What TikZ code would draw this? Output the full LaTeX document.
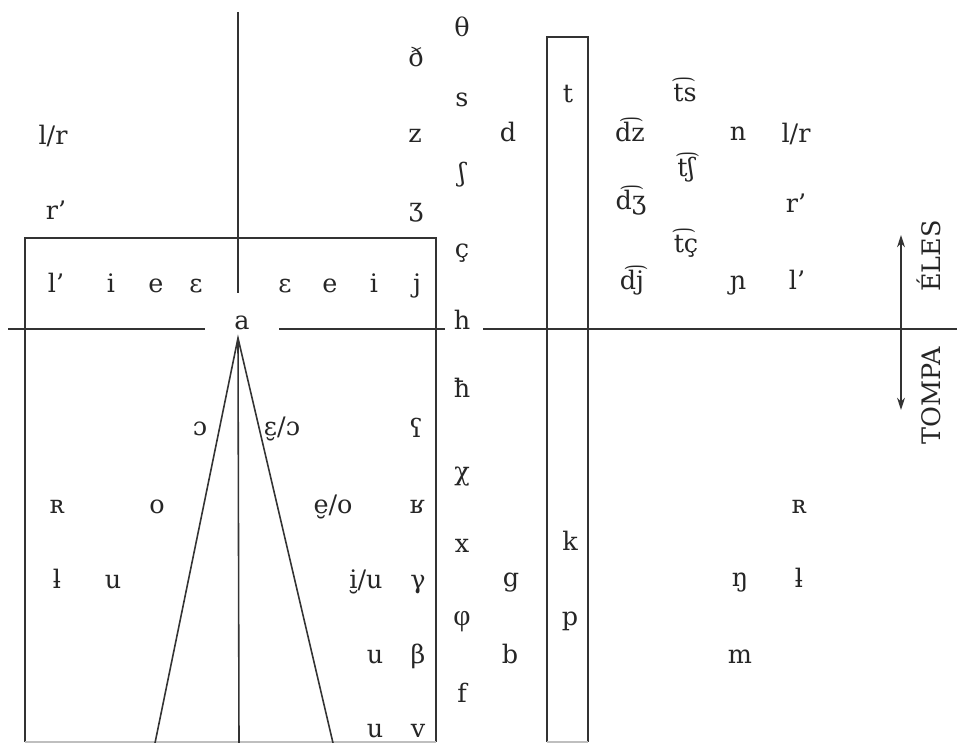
\documentclass[tikz,border=0pt]{standalone}
\usepackage{fontspec}
\setmainfont{DejaVu Serif}
\newfontfamily\altserif{Liberation Serif}
\usetikzlibrary{arrows.meta}
\tikzset{
  lbl/.style={font=\fontsize{14.5}{17}\selectfont, inner sep=0pt, anchor=base, text=black!85},
  rule/.style={line width=0.9pt, draw=black!80},
  faint/.style={line width=0.6pt, draw=black!25},
  side/.style={font=\fontsize{14.5}{17}\selectfont, inner sep=0pt, rotate=90, text=black!85}
}
\begin{document}
\begin{tikzpicture}[x=0.02cm,y=-0.02cm]
\useasboundingbox (0,0) rectangle (957,743);
% lines
\draw[rule] (238,12) -- (238,293);
\draw[rule] (25,742) -- (25,238) -- (436,238) -- (436,742);
\draw[faint] (25,742) -- (436,742);
\draw[rule] (8,329) -- (205,329);
\draw[rule] (279,329) -- (445,329);
\draw[rule] (483,329) -- (957,329);
\coordinate (apex) at (238,338);
\coordinate (lfoot) at (155,743);
\coordinate (rfoot) at (333,743);
\coordinate (mfoot) at (239,743);
\draw[rule] (lfoot) -- (apex) -- (rfoot);
\draw[rule] (apex) -- (mfoot);
\draw[rule] (547,742) -- (547,37) -- (588,37) -- (588,742);
\draw[faint] (547,742) -- (588,742);
\coordinate (atop) at (901,235);
\coordinate (abot) at (901,410);
\draw[rule, {Stealth[length=7pt,width=4.5pt]}-{Stealth[length=7pt,width=4.5pt]}] (atop) -- (abot);
\node[side] (eles) at (929,256) {ÉLES};
\node[side] (tompa) at (931,396) {TOMPA};
% column A
\node[lbl] (theta) at (462,37) {θ};
\node[lbl] (s) at (462,107) {s};
\node[lbl] (esh) at (462,182) {ʃ};
\node[lbl] (ccd) at (462,258) {ç};
\node[lbl] (h) at (462,330) {h};
\node[lbl] (hbar) at (462,398) {ħ};
\node[lbl] (chi) at (462,480) {χ};
\node[lbl] (x) at (462,552) {x};
\node[lbl] (phi) at (462,625) {\altserif\fontsize{17}{19}\selectfont φ};
\node[lbl] (f) at (462,702) {f};
% column B
\node[lbl] (eth) at (416,67) {ð};
\node[lbl] (z) at (415,143) {z};
\node[lbl] (ezh) at (416,217) {ʒ};
\node[lbl] (j) at (417,293) {j};
\node[lbl] (phar) at (416,437) {ʕ};
\node[lbl] (invr) at (417,513) {ʁ};
\node[lbl] (gam) at (418,588) {γ};
\node[lbl] (beta) at (418,663) {β};
\node[lbl] (v) at (418,737) {v};
% left block
\node[lbl] (lrL) at (53,145) {l/r};
\node[lbl] (rpL) at (56,220) {r’};
\node[lbl] (lpL) at (56,293) {l’};
\node[lbl] (iL) at (111,293) {i};
\node[lbl] (eL) at (156,293) {e};
\node[lbl] (epsL) at (196,293) {ɛ};
\node[lbl] (epsR) at (285,293) {ɛ};
\node[lbl] (eR) at (330,293) {e};
\node[lbl] (iR) at (374,293) {i};
\node[lbl] (a) at (242,330) {a};
\node[lbl] (oo) at (200,435) {ɔ};
\node[lbl] (eo1) at (282,435) {ɛ̮/ɔ};
\node[lbl] (scR) at (57,513) {ʀ};
\node[lbl] (o) at (157,513) {o};
\node[lbl] (eo2) at (333,513) {e̮/o};
\node[lbl] (lbarL) at (57,588) {ƚ};
\node[lbl] (uL) at (113,588) {u};
\node[lbl] (iu) at (366,588) {i̮/u};
\node[lbl] (u1) at (375,663) {u};
\node[lbl] (u2) at (375,737) {u};
% right block
\node[lbl] (t) at (568,103) {t};
\node[lbl] (ts) at (685,102) {t͡s};
\node[lbl] (d) at (508,142) {d};
\node[lbl] (dz) at (630,142) {d͡z};
\node[lbl] (n) at (738,141) {n};
\node[lbl] (lrR) at (796,143) {l/r};
\node[lbl] (tsh) at (686,177) {t͡ʃ};
\node[lbl] (dzh) at (631,210) {d͡ʒ};
\node[lbl] (rpR) at (796,213) {r’};
\node[lbl] (tc) at (686,253) {t͡ç};
\node[lbl] (dj) at (632,290) {d͡j};
\node[lbl] (nj) at (738,290) {ɲ};
\node[lbl] (lpR) at (797,290) {l’};
\node[lbl] (scRR) at (799,513) {ʀ};
\node[lbl] (k) at (570,550) {k};
\node[lbl] (g) at (511,586) {g};
\node[lbl] (ng) at (740,586) {ŋ};
\node[lbl] (lbarR) at (799,587) {ƚ};
\node[lbl] (p) at (570,625) {p};
\node[lbl] (b) at (510,663) {b};
\node[lbl] (m) at (740,663) {m};
\end{tikzpicture}
\end{document}
